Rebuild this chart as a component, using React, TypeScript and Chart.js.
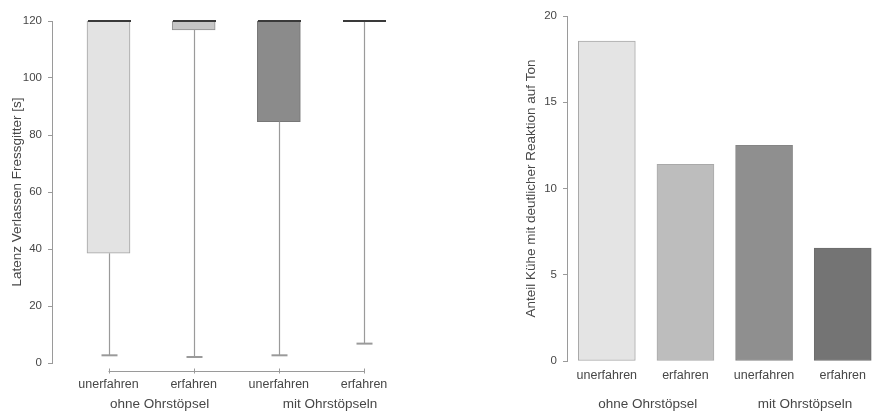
import { useEffect, useRef } from "react";
import { Chart, registerables } from "chart.js";

Chart.register(...registerables);

// ---- data ----
const categories = ["unerfahren", "erfahren", "unerfahren", "erfahren"];
const groupLabels = ["ohne Ohrstöpsel", "mit Ohrstöpseln"];

// Latenz Verlassen Fressgitter [s] – five-number summaries per group
const latMin = [2.7, 2.1, 2.7, 6.8];
const latQ1 = [38.5, 116.9, 84.7, 120];
const latMedian = [120, 120, 120, 120];
const latQ3 = [120, 120, 120, 120];
const latMax = [120, 120, 120, 120];
const latTicks = [0, 20, 40, 60, 80, 100, 120];

// Anteil Kühe mit deutlicher Reaktion auf Ton
const reactionShare = [18.55, 11.4, 12.5, 6.55];
const shareTicks = [0, 5, 10, 15, 20];

// ---- styles ----
const FONT = "'Liberation Sans', Arial, Helvetica, sans-serif";
const TEXT = "#474747";
const AXIS = "#9a9a9a";
const boxFill = ["#e3e3e3", "#c6c6c6", "#8b8b8b", "#8b8b8b"];
const boxBorder = ["#a3a3a3", "#8e8e8e", "#777777", "#777777"];
const barFill = ["#e4e4e4", "#bdbdbd", "#8f8f8f", "#747474"];
const barBorder = ["#a8a8a8", "#a9a9a9", "#858585", "#6c6c6c"];

const W = 873;
const H = 412;
const LEFT_W = 440;
const BOX_PX = 43;
const BAR_PX = 57;

const positions = categories.map((_, i) => i + 1);

function groupCenters(): number[] {
  return groupLabels.map((_, g) => (positions[g * 2] + positions[g * 2 + 1]) / 2);
}

const boxExtras = {
  id: "boxExtras",
  afterDatasetsDraw(chart: any) {
    const { ctx, scales } = chart;
    const x = scales.x;
    const y = scales.y;
    ctx.save();
    positions.forEach((p, i) => {
      const cx = Math.round(x.getPixelForValue(p)) + 0.5;
      ctx.strokeStyle = AXIS;
      ctx.lineWidth = 1.2;
      // lower whisker
      ctx.beginPath();
      ctx.moveTo(cx, y.getPixelForValue(latQ1[i]));
      ctx.lineTo(cx, y.getPixelForValue(latMin[i]));
      ctx.stroke();
      // upper whisker
      if (latMax[i] > latQ3[i]) {
        ctx.beginPath();
        ctx.moveTo(cx, y.getPixelForValue(latQ3[i]));
        ctx.lineTo(cx, y.getPixelForValue(latMax[i]));
        ctx.stroke();
      }
      // whisker caps
      ctx.lineWidth = 2;
      ctx.beginPath();
      ctx.moveTo(cx - 8, y.getPixelForValue(latMin[i]));
      ctx.lineTo(cx + 8, y.getPixelForValue(latMin[i]));
      ctx.stroke();
      // median
      ctx.strokeStyle = "#3a3a3a";
      ctx.lineWidth = 2.2;
      ctx.beginPath();
      ctx.moveTo(cx - BOX_PX / 2, y.getPixelForValue(latMedian[i]));
      ctx.lineTo(cx + BOX_PX / 2, y.getPixelForValue(latMedian[i]));
      ctx.stroke();
    });
    // category bracket axis under the boxes
    const yb = Math.round(chart.chartArea.bottom + 8) + 0.5;
    ctx.strokeStyle = AXIS;
    ctx.lineWidth = 1;
    ctx.beginPath();
    ctx.moveTo(x.getPixelForValue(positions[0]), yb);
    ctx.lineTo(x.getPixelForValue(positions[positions.length - 1]), yb);
    positions.forEach((p) => {
      const px = Math.round(x.getPixelForValue(p)) + 0.5;
      ctx.moveTo(px, yb - 3);
      ctx.lineTo(px, yb + 2);
    });
    ctx.stroke();
    ctx.restore();
  },
};

const groupText = {
  id: "groupText",
  afterDraw(chart: any, _args: any, opts: any) {
    const { ctx, scales } = chart;
    ctx.save();
    ctx.fillStyle = TEXT;
    ctx.font = `13.5px ${FONT}`;
    ctx.textAlign = "center";
    ctx.textBaseline = "middle";
    groupCenters().forEach((c, g) => {
      ctx.fillText(groupLabels[g], scales.x.getPixelForValue(c + (opts.shift || 0)), opts.y);
    });
    ctx.restore();
  },
};

function xScale(min: number, max: number, pad: number, height: number) {
  return {
    type: "linear" as const,
    offset: false,
    min,
    max,
    afterBuildTicks: (s: any) => {
      s.ticks = positions.map((v) => ({ value: v }));
    },
    afterFit: (s: any) => {
      s.height = height;
    },
    grid: { display: false, drawTicks: false, offset: false },
    border: { display: false },
    ticks: {
      autoSkip: false,
      maxRotation: 0,
      padding: pad,
      color: TEXT,
      font: { size: 12.5, family: FONT },
      callback: (v: any) => categories[Number(v) - 1] ?? "",
    },
  };
}

function yScale(min: number, max: number, ticks: number[], width: number, title: string, titlePad: number) {
  return {
    type: "linear" as const,
    min,
    max,
    afterBuildTicks: (s: any) => {
      s.ticks = ticks.map((v) => ({ value: v }));
    },
    afterFit: (s: any) => {
      s.width = width;
    },
    grid: { drawOnChartArea: false, drawTicks: true, tickLength: 4, color: AXIS },
    border: { display: true, color: AXIS, width: 1 },
    ticks: { padding: 6, color: TEXT, font: { size: 11.5, family: FONT } },
    title: {
      display: true,
      text: title,
      color: TEXT,
      font: { size: 13.5, family: FONT },
      padding: { top: titlePad, bottom: 0 },
    },
  };
}

export default function App() {
  const leftRef = useRef<HTMLCanvasElement>(null);
  const rightRef = useRef<HTMLCanvasElement>(null);

  useEffect(() => {
    document.body.style.margin = "0";
    const left = new Chart(leftRef.current!, {
      type: "bar",
      data: {
        datasets: [
          {
            data: positions.map((p, i) => ({ x: p, y: [latQ1[i], latQ3[i]] })) as any,
            backgroundColor: boxFill,
            borderColor: boxBorder,
            borderWidth: 1,
            borderSkipped: false,
            barThickness: BOX_PX,
            clip: false as any,
          },
        ],
      },
      options: {
        responsive: false,
        animation: false,
        devicePixelRatio: 1,
        layout: { padding: { top: 21, left: 0, right: 30, bottom: 0 } },
        plugins: {
          legend: { display: false },
          tooltip: { enabled: false },
          groupText: { y: 404, shift: 0.1 },
        } as any,
        scales: {
          x: xScale(0.3366, 4.54, 14, 49),
          y: yScale(0, 120, latTicks, 52, "Latenz Verlassen Fressgitter [s]", 9),
        },
      },
      plugins: [boxExtras, groupText],
    });

    const right = new Chart(rightRef.current!, {
      type: "bar",
      data: {
        datasets: [
          {
            data: positions.map((p, i) => ({ x: p, y: reactionShare[i] })) as any,
            backgroundColor: barFill,
            borderColor: barBorder,
            borderWidth: 1,
            borderSkipped: false,
            barThickness: BAR_PX,
            clip: false as any,
          },
        ],
      },
      options: {
        responsive: false,
        animation: false,
        devicePixelRatio: 1,
        layout: { padding: { top: 16, left: 0, right: 0, bottom: 0 } },
        plugins: {
          legend: { display: false },
          tooltip: { enabled: false },
          groupText: { y: 404, shift: 0.02 },
        } as any,
        scales: {
          x: xScale(0.4937, 4.371, 7, 51),
          y: yScale(0, 20, shareTicks, 127, "Anteil Kühe mit deutlicher Reaktion auf Ton", 83),
        },
      },
      plugins: [groupText],
    });

    return () => {
      left.destroy();
      right.destroy();
    };
  }, []);

  return (
    <div style={{ position: "fixed", left: 0, top: 0, width: W, height: H, background: "#fff" }}>
      <canvas ref={leftRef} width={LEFT_W} height={H} style={{ position: "absolute", left: 0, top: 0 }} />
      <canvas ref={rightRef} width={W - LEFT_W} height={H} style={{ position: "absolute", left: LEFT_W, top: 0 }} />
    </div>
  );
}
